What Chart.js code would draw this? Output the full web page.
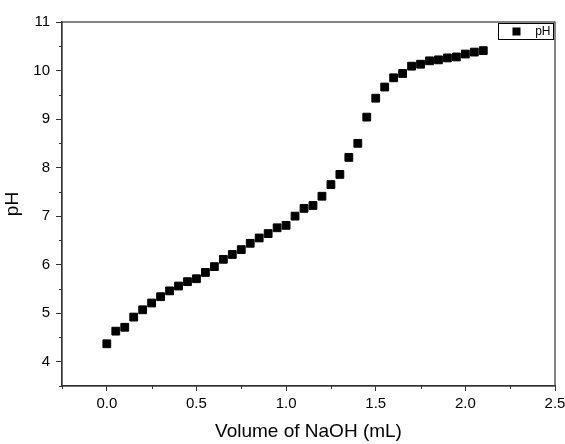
<!DOCTYPE html>
<html>
<head>
  <meta charset="UTF-8">
  <title>pH titration</title>
  <script src="https://cdn.jsdelivr.net/npm/chart.js"></script>
  <style>
    body { margin: 0; background: #fff; }
    #wrap { width: 565px; height: 444px; }
  </style>
</head>
<body>
  <div id="wrap"><canvas id="grafik"></canvas></div>

  <script>
    // data
    const volume = [0.00, 0.05, 0.10, 0.15, 0.20, 0.25, 0.30, 0.35, 0.40, 0.45,
                    0.50, 0.55, 0.60, 0.65, 0.70, 0.75, 0.80, 0.85, 0.90, 0.95,
                    1.00, 1.05, 1.10, 1.15, 1.20, 1.25, 1.30, 1.35, 1.40, 1.45,
                    1.50, 1.55, 1.60, 1.65, 1.70, 1.75, 1.80, 1.85, 1.90, 1.95,
                    2.00, 2.05, 2.10];
    const phValues = [4.37, 4.63, 4.71, 4.92, 5.07, 5.21, 5.34, 5.46, 5.56, 5.65,
                      5.71, 5.84, 5.96, 6.11, 6.21, 6.31, 6.44, 6.55, 6.64, 6.76,
                      6.81, 7.00, 7.16, 7.22, 7.41, 7.65, 7.86, 8.21, 8.50, 9.04,
                      9.43, 9.66, 9.85, 9.94, 10.09, 10.13, 10.20, 10.22, 10.26, 10.28,
                      10.34, 10.38, 10.41];
    const xTicks = [0, 0.5, 1.0, 1.5, 2.0, 2.5];
    const yTicks = [4, 5, 6, 7, 8, 9, 10, 11];
    const xMinor = [-0.25, 0.25, 0.75, 1.25, 1.75, 2.25];
    const yMinor = [3.5, 4.5, 5.5, 6.5, 7.5, 8.5, 9.5, 10.5];

    const points = volume.map((v, i) => ({ x: v, y: phValues[i] }));
    const FONT = "'Liberation Sans', Arial, sans-serif";
    const AXIS = '#333';

    // frame, minor ticks and the boxed legend in the top right corner
    const framePlugin = {
      id: 'frame',
      afterDraw(chart) {
        const c = chart.ctx;
        const a = chart.chartArea;
        const xs = chart.scales.x, ys = chart.scales.y;
        c.save();
        c.strokeStyle = AXIS;
        c.lineWidth = 1.2;
        c.strokeRect(a.left, a.top, a.right - a.left, a.bottom - a.top);
        c.lineWidth = 1;
        c.beginPath();
        xMinor.forEach(v => {
          const px = Math.round(xs.getPixelForValue(v)) + 0.5;
          c.moveTo(px, a.bottom);
          c.lineTo(px, a.bottom + 3);
        });
        yMinor.forEach(v => {
          const py = Math.round(ys.getPixelForValue(v)) + 0.5;
          c.moveTo(a.left, py);
          c.lineTo(a.left - 3, py);
        });
        c.stroke();

        // legend
        const ds = chart.data.datasets[0];
        const bx = a.right - 56.5, by = a.top + 1.5;
        c.strokeStyle = '#000';
        c.strokeRect(bx, by, 55, 16);
        c.fillStyle = ds.backgroundColor;
        c.fillRect(bx + 14, by + 4, 8, 8);
        c.font = '12px ' + FONT;
        c.textBaseline = 'middle';
        c.textAlign = 'right';
        c.fillText(ds.label, bx + 52, by + 8.5);
        c.restore();
      }
    };

    const ctx = document.getElementById('grafik').getContext('2d');
    const chart = new Chart(ctx, {
      type: 'scatter',
      data: {
        datasets: [{
          label: 'pH',
          data: points,
          backgroundColor: '#000',
          borderColor: '#000',
          pointStyle: 'rect',
          pointRadius: 5.5,
          pointBorderWidth: 1,
          pointHoverRadius: 5.5
        }]
      },
      options: {
        responsive: true,
        maintainAspectRatio: false,
        animation: false,
        layout: { padding: { left: 0, top: 22, right: 10, bottom: 0 } },
        scales: {
          x: {
            type: 'linear',
            min: -0.25,
            max: 2.5,
            afterBuildTicks: s => { s.ticks = xTicks.map(v => ({ value: v })); },
            afterFit: s => { s.height = 58; s.paddingLeft = 0; s.paddingRight = 0; },
            ticks: {
              color: '#000',
              font: { family: FONT, size: 15 },
              padding: 4,
              maxRotation: 0,
              callback: v => Number(v).toFixed(1)
            },
            grid: { drawOnChartArea: false, drawTicks: true, tickLength: 5, color: AXIS, lineWidth: 1 },
            border: { display: true, color: AXIS, width: 1.2 },
            title: {
              display: true,
              text: 'Volume of NaOH (mL)',
              color: '#000',
              font: { family: FONT, size: 19 },
              padding: { top: 2, bottom: 1 }
            }
          },
          y: {
            type: 'linear',
            min: 3.5,
            max: 11,
            afterBuildTicks: s => { s.ticks = yTicks.map(v => ({ value: v })); },
            afterFit: s => { s.width = 62; },
            ticks: {
              color: '#000',
              font: { family: FONT, size: 15 },
              padding: 6,
              callback: v => String(v)
            },
            grid: { drawOnChartArea: false, drawTicks: true, tickLength: 6, color: AXIS, lineWidth: 1 },
            border: { display: true, color: AXIS, width: 1.2 },
            title: {
              display: true,
              text: 'pH',
              color: '#000',
              font: { family: FONT, size: 19 },
              padding: { top: 1, bottom: 0 }
            }
          }
        },
        plugins: {
          legend: { display: false },
          tooltip: { enabled: false }
        }
      },
      plugins: [framePlugin]
    });
  </script>
</body>
</html>
